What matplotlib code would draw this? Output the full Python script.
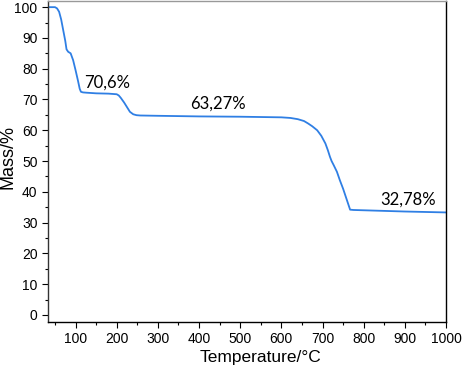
import matplotlib
matplotlib.use("Agg")
import matplotlib.pyplot as plt
from matplotlib.ticker import MultipleLocator

temperature = [33, 50, 55, 60, 65, 70, 75, 78, 82, 88, 94, 100, 106, 110, 113, 118, 127,
               150, 180, 200, 205, 210, 218, 225, 232, 240, 248, 257, 300, 400, 500, 600,
               622, 640, 655, 665, 675, 687, 697, 707, 713, 718, 722, 727, 735, 742, 750,
               760, 767, 775, 800, 900, 1000]
mass = [100, 100, 99.6, 98.5, 96, 92.5, 89, 86.3, 85.5, 85, 82.8, 79.5, 76, 73.5, 72.5, 72.3, 72.2,
        72.0, 71.9, 71.7, 71.3, 70.5, 69, 67.5, 66, 65.2, 64.9, 64.8, 64.7, 64.5, 64.4, 64.2,
        64.0, 63.6, 63.0, 62.2, 61.3, 60.0, 58.2, 55.7, 53.5, 51.4, 50, 48.7, 46.5, 43.8, 41,
        37, 34.2, 34.1, 34.0, 33.6, 33.3]

labels = ["70,6%", "63,27%", "32,78%"]
label_x = [177, 445, 908]
label_y = [75.6, 68.5, 37.3]

fig = plt.figure(figsize=(4.66, 3.67), dpi=100)
ax = fig.add_axes([48/466, 45/367, 398/466, 321/367])
ax.plot(temperature, mass, color="#2f7fe4", lw=1.3)

ax.set_xlim(33, 1000)
ax.set_ylim(-2.3, 102)
ax.set_xticks(range(100, 1001, 100))
ax.set_yticks(range(0, 101, 10))
ax.xaxis.set_minor_locator(MultipleLocator(50))
ax.yaxis.set_minor_locator(MultipleLocator(5))

tickfont = "Liberation Sans"
ax.tick_params(which="major", direction="out", length=4, width=0.8, labelsize=10,
               top=False, right=False)
ax.tick_params(which="minor", direction="out", length=2, width=0.8, top=False, right=False)
for t in ax.get_xticklabels() + ax.get_yticklabels():
    t.set_fontfamily(tickfont)

ax.spines["top"].set_color("#999999")
ax.spines["left"].set_color("#333333")
for s in ax.spines.values():
    s.set_linewidth(1.0)

ax.set_xlabel("Temperature/°C", fontsize=12.5, family=tickfont)
ax.set_ylabel("Mass/%", fontsize=13, family=tickfont)
ax.xaxis.set_label_coords(0.533, -0.087)
ax.yaxis.set_label_coords(-0.078, 0.514)

for s, x, y in zip(labels, label_x, label_y):
    ax.text(x, y, s, fontsize=12, family="Lato", ha="center", va="center")

fig.savefig("out.png", dpi=100)
